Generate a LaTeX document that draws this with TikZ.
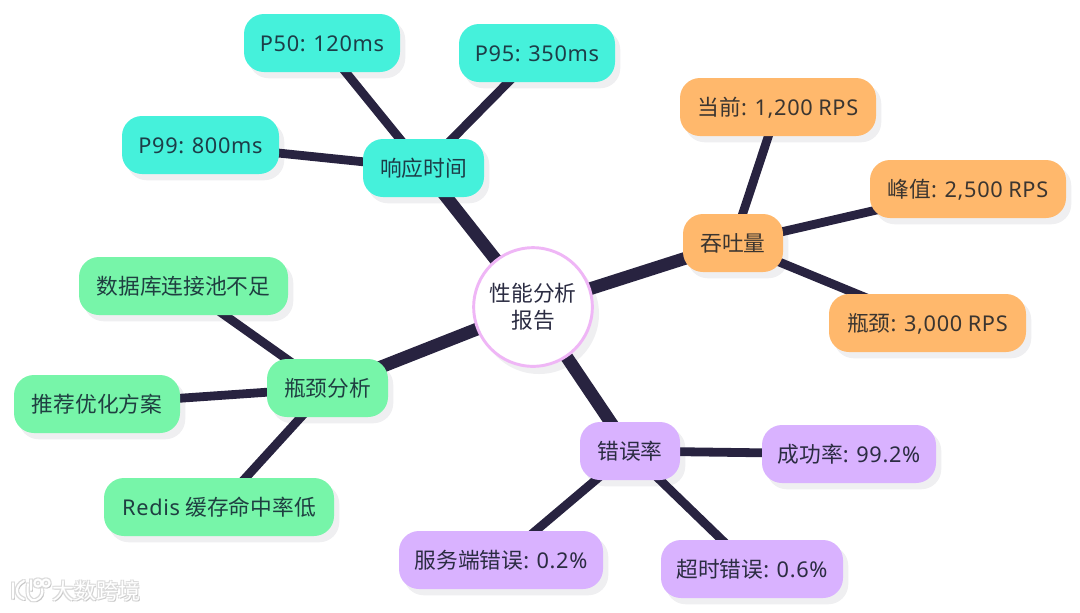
\documentclass[tikz,border=0pt]{standalone}
\usepackage{fontspec}
\setmainfont[LetterSpace=3.2,WordSpace=0.85]{Noto Sans}
\newfontfamily\cjk{Noto Sans CJK SC}
\usetikzlibrary{calc}
\pgfdeclarelayer{shadowlayer}
\pgfdeclarelayer{edgelayer}
\pgfsetlayers{shadowlayer,edgelayer,main}
\definecolor{cteal}{HTML}{45F1DB}
\definecolor{corange}{HTML}{FFB86C}
\definecolor{cgreen}{HTML}{77F5A9}
\definecolor{cpurple}{HTML}{D9B2FF}
\definecolor{cline}{HTML}{282340}
\definecolor{cring}{HTML}{EFB6F6}
\definecolor{cshadow}{HTML}{EFEFF1}
\definecolor{ctxt}{HTML}{2B2C42}
\definecolor{ctxtg}{HTML}{1F3F41}
\definecolor{ctxtt}{HTML}{1D3D48}
\definecolor{ctxto}{HTML}{3B3530}
\tikzset{
  x=0.75pt,y=-0.75pt,
  box/.style={rounded corners=15pt,minimum height=43.5pt,inner sep=0pt,text height=13pt,text depth=0pt,font=\fontsize{16.3pt}{18pt}\selectfont},
  boxw/.style={minimum width=#1*0.75pt},
  tealbox/.style={box,fill=cteal,text=ctxtt},
  orangebox/.style={box,fill=corange,text=ctxto},
  greenbox/.style={box,fill=cgreen,text=ctxtg},
  purplebox/.style={box,fill=cpurple,text=ctxt},
  rootnode/.style={circle,draw=cring,fill=white,line width=2.2pt,minimum size=89pt,inner sep=0pt,align=center,text=ctxt,font=\fontsize{16.3pt}{19pt}\selectfont},
  trunk/.style={draw=cline,line width=9.6pt},
  twig/.style={draw=cline,line width=6.6pt},
  shadowfill/.style={fill=cshadow,rounded corners=15pt},
}
\begin{document}
\begin{tikzpicture}
\useasboundingbox (0,0) rectangle (1080,612);
\node[rootnode] (root) at (533,307) {\cjk 性能分析\\[1pt]\cjk 报告};
\node[tealbox,boxw=121] (resp) at (423.5,168) {\cjk 响应时间};
\node[tealbox,boxw=156] (p50) at (322,43) {P50: 120ms};
\node[tealbox,boxw=156] (p95) at (537,53) {P95: 350ms};
\node[tealbox,boxw=157] (p99) at (200.5,145) {P99: 800ms};
\node[orangebox,boxw=100] (tput) at (733,243) {\cjk 吞吐量};
\node[orangebox,boxw=196] (cur) at (778,107) {{\cjk 当前}: 1,200 RPS};
\node[orangebox,boxw=196] (peak) at (968,189) {{\cjk 峰值}: 2,500 RPS};
\node[orangebox,boxw=197] (limit) at (927.5,323) {{\cjk 瓶颈}: 3,000 RPS};
\node[greenbox,boxw=121] (bott) at (327.5,388) {\cjk 瓶颈分析};
\node[greenbox,boxw=209] (db) at (183.5,286) {\cjk 数据库连接池不足};
\node[greenbox,boxw=166] (rec) at (97,404) {\cjk 推荐优化方案};
\node[greenbox,boxw=230] (redis) at (219,507) {Redis {\cjk 缓存命中率低}};
\node[purplebox,boxw=100] (err) at (630,451) {\cjk 错误率};
\node[purplebox,boxw=174] (succ) at (849,454) {{\cjk 成功率}: 99.2\%};
\node[purplebox,boxw=204] (serv) at (501,560) {{\cjk 服务端错误}: 0.2\%};
\node[purplebox,boxw=182] (tout) at (752,569) {{\cjk 超时错误}: 0.6\%};
\begin{pgfonlayer}{edgelayer}
\draw[trunk] (root.center) -- (resp.center);
\draw[trunk] (root.center) -- (tput.center);
\draw[trunk] (root.center) -- (bott.center);
\draw[trunk] (root.center) -- (err.center);
\draw[twig] (resp.center) -- (p50.center);
\draw[twig] (resp.center) -- (p95.center);
\draw[twig] (resp.center) -- (p99.center);
\draw[twig] (tput.center) -- (cur.center);
\draw[twig] (tput.center) -- (peak.center);
\draw[twig] (tput.center) -- (limit.center);
\draw[twig] (bott.center) -- (db.center);
\draw[twig] (bott.center) -- (rec.center);
\draw[twig] (bott.center) -- (redis.center);
\draw[twig] (err.center) -- (succ.center);
\draw[twig] (err.center) -- (serv.center);
\draw[twig] (err.center) -- (tout.center);
\end{pgfonlayer}
\begin{pgfonlayer}{shadowlayer}
\foreach \n in {resp,p50,p95,p99,tput,cur,peak,limit,bott,db,rec,redis,err,succ,serv,tout}{
  \fill[shadowfill] ($(\n.north west)+(5,6)$) rectangle ($(\n.south east)+(5,6)$);
}
\fill[cshadow] ($(root)+(6,7)$) circle[radius=45pt];
\end{pgfonlayer}
% watermark
\foreach \dx/\dy/\c in {1/1/black!22,-1/1/black!14,1/-1/black!14,-1/-1/black!14,0/0/white}{
  \node[text=\c,inner sep=0pt,font=\cjk\fontsize{16.5pt}{18pt}\selectfont] at ($(96.5,591)+(\dx,\dy)$) {大数跨境};
  \begin{scope}[shift={(\dx,\dy)},draw=\c,line width=1.5pt,line cap=round]
    \draw (13,583) -- (13,598);
    \draw (24,581) .. controls (14,586) and (15,596) .. (24,599);
    \draw (28,584) .. controls (26,596) and (30,602) .. (36,600) .. controls (42,598) and (43,592) .. (42,589);
    \draw (31,580) -- (31,590);
    \draw (38,583) circle[radius=3.6];
    \draw (46,583) circle[radius=3.6];
  \end{scope}
}
\end{tikzpicture}
\end{document}
